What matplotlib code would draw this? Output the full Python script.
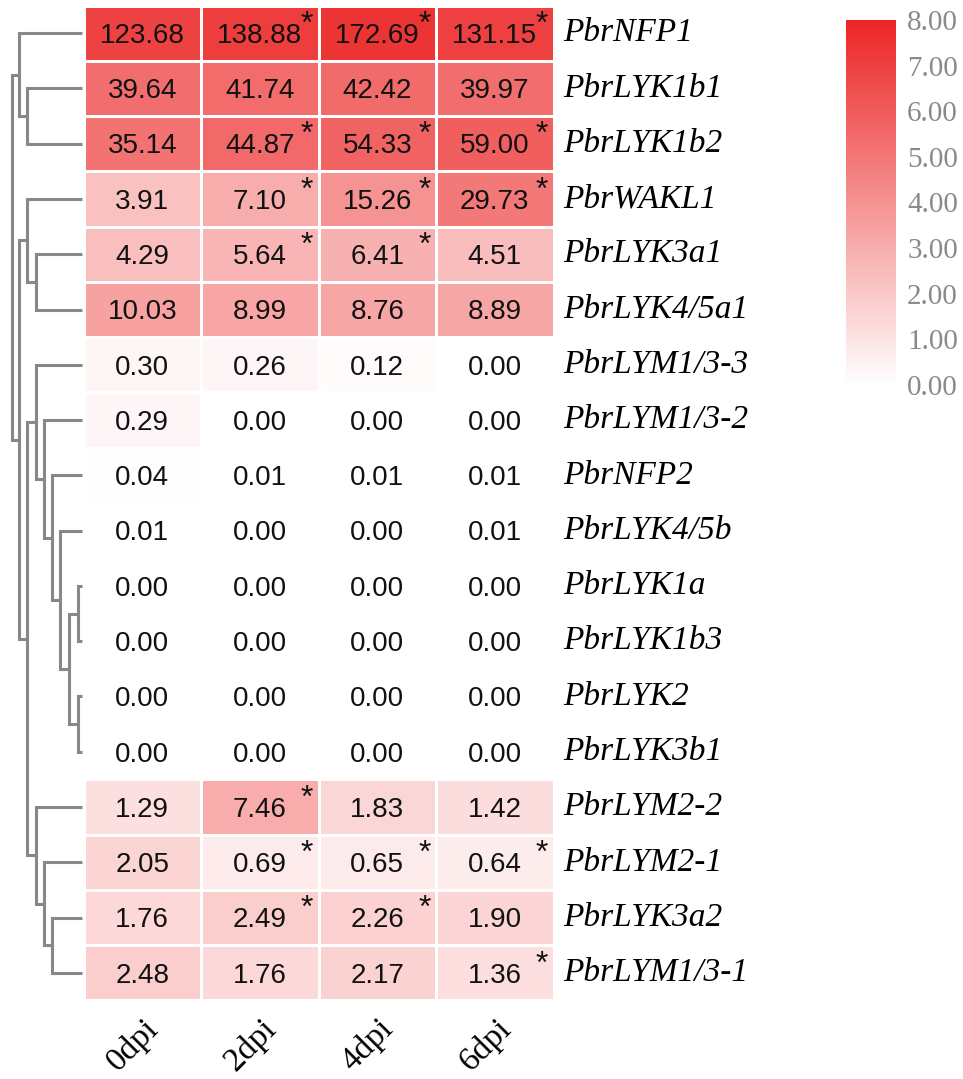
import matplotlib
matplotlib.use("Agg")
import matplotlib.pyplot as plt
import numpy as np
from matplotlib.colors import LinearSegmentedColormap

genes = ["PbrNFP1", "PbrLYK1b1", "PbrLYK1b2", "PbrWAKL1", "PbrLYK3a1", "PbrLYK4/5a1",
         "PbrLYM1/3-3", "PbrLYM1/3-2", "PbrNFP2", "PbrLYK4/5b", "PbrLYK1a", "PbrLYK1b3",
         "PbrLYK2", "PbrLYK3b1", "PbrLYM2-2", "PbrLYM2-1", "PbrLYK3a2", "PbrLYM1/3-1"]
stages = ["0dpi", "2dpi", "4dpi", "6dpi"]

expr = np.array([
    [123.68, 138.88, 172.69, 131.15],
    [39.64, 41.74, 42.42, 39.97],
    [35.14, 44.87, 54.33, 59.00],
    [3.91, 7.10, 15.26, 29.73],
    [4.29, 5.64, 6.41, 4.51],
    [10.03, 8.99, 8.76, 8.89],
    [0.30, 0.26, 0.12, 0.00],
    [0.29, 0.00, 0.00, 0.00],
    [0.04, 0.01, 0.01, 0.01],
    [0.01, 0.00, 0.00, 0.01],
    [0.00, 0.00, 0.00, 0.00],
    [0.00, 0.00, 0.00, 0.00],
    [0.00, 0.00, 0.00, 0.00],
    [0.00, 0.00, 0.00, 0.00],
    [1.29, 7.46, 1.83, 1.42],
    [2.05, 0.69, 0.65, 0.64],
    [1.76, 2.49, 2.26, 1.90],
    [2.48, 1.76, 2.17, 1.36],
])

signif = np.array([
    [0, 1, 1, 1],
    [0, 0, 0, 0],
    [0, 1, 1, 1],
    [0, 1, 1, 1],
    [0, 1, 1, 0],
    [0, 0, 0, 0],
    [0, 0, 0, 0],
    [0, 0, 0, 0],
    [0, 0, 0, 0],
    [0, 0, 0, 0],
    [0, 0, 0, 0],
    [0, 0, 0, 0],
    [0, 0, 0, 0],
    [0, 0, 0, 0],
    [0, 1, 0, 0],
    [0, 1, 1, 1],
    [0, 1, 1, 0],
    [0, 0, 0, 1],
])

# row dendrogram, scipy-like linkage: ids >= 18 are earlier merges
link_left = [12, 10, 19, 9, 8, 7, 6, 16, 15, 14, 24, 4, 3, 1, 0, 30, 32]
link_right = [13, 11, 18, 20, 21, 22, 23, 17, 25, 26, 27, 5, 29, 2, 31, 28, 33]
link_height = [0.5, 0.5, 1.6, 2.7, 3.6, 4.6, 5.5, 3.6, 4.6, 5.5, 6.6, 5.5, 6.6, 6.6, 7.6, 7.6, 8.4]

cbar_ticks = [0, 1, 2, 3, 4, 5, 6, 7, 8]

W, H = 963, 1079
fig = plt.figure(figsize=(W / 100, H / 100), dpi=100)

cmap = LinearSegmentedColormap.from_list("wr", ["#FFFFFF", "#EC2626"])
score = np.log2(expr + 1)

# heatmap
ax = fig.add_axes([83.5 / W, 1 - 1000.5 / H, 470 / W, 995 / H])
ax.pcolormesh(score, cmap=cmap, vmin=0, vmax=8, edgecolors="white", linewidth=1.8)
ax.set_xlim(0, len(stages))
ax.set_ylim(len(genes), 0)
ax.axis("off")

for i in range(len(genes)):
    for j in range(len(stages)):
        ax.text(j + 0.5, i + 0.55, f"{expr[i, j]:.2f}", ha="center", va="center",
                fontsize=20, family="Liberation Sans", color="#111111")
        if signif[i, j]:
            ax.text(j + 0.9, i + 0.35, "*", ha="center", va="center",
                    fontsize=23, family="Liberation Sans", color="#111111")
    ax.text(4.08, i + 0.5, genes[i], ha="left", va="center", fontsize=24,
            family="Liberation Serif", style="italic", color="black")

for j, s in enumerate(stages):
    ax.text(j + 0.42, 18.8, s, ha="center", va="center", rotation=45,
            fontsize=24, family="Liberation Serif", color="black")

# dendrogram
axd = fig.add_axes([12 / W, 1 - 1000.5 / H, 70 / W, 995 / H])
n = len(genes)
pos = {i: i + 0.5 for i in range(n)}
hgt = {i: 0.0 for i in range(n)}
for k, (a, b, h) in enumerate(zip(link_left, link_right, link_height)):
    ya, yb = pos[a], pos[b]
    axd.plot([hgt[a], h, h, hgt[b]], [ya, ya, yb, yb], color="#88888C",
             lw=2.2, solid_capstyle="butt", solid_joinstyle="miter", clip_on=False)
    pos[n + k] = (ya + yb) / 2
    hgt[n + k] = h
axd.set_xlim(max(link_height), 0)
axd.set_ylim(n, 0)
axd.axis("off")

# colorbar
axc = fig.add_axes([846 / W, 1 - 385 / H, 50 / W, 365 / H])
grad = np.linspace(0, 8, 256).reshape(-1, 1)
axc.imshow(grad, cmap=cmap, vmin=0, vmax=8, aspect="auto", origin="lower",
           extent=[0, 1, 0, 8])
axc.set_xticks([])
axc.yaxis.tick_right()
axc.set_yticks(cbar_ticks)
axc.set_yticklabels([f"{t:.2f}" for t in cbar_ticks], fontsize=21,
                    family="Liberation Serif", color="#8A8A8A")
axc.tick_params(axis="y", length=0, pad=8)
for sp in axc.spines.values():
    sp.set_visible(False)

fig.savefig("out.png", dpi=100)
